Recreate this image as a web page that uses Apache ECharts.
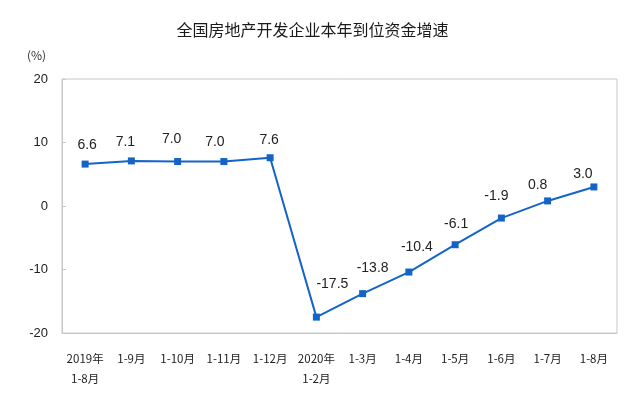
<!DOCTYPE html>
<html>
<head>
<meta charset="utf-8">
<script src="https://cdn.jsdelivr.net/npm/echarts@6/dist/echarts.min.js"></script>
<style>html,body{margin:0;padding:0;background:#fff}#c{width:625px;height:406px}</style>
</head>
<body>
<div id="c"></div>
<script>
const categories = ['2019年\n1-8月','1-9月','1-10月','1-11月','1-12月','2020年\n1-2月','1-3月','1-4月','1-5月','1-6月','1-7月','1-8月'];
const growth = [6.6, 7.1, 7.0, 7.0, 7.6, -17.5, -13.8, -10.4, -6.1, -1.9, 0.8, 3.0];
const yTicks = [-20, -10, 0, 10, 20];
// label nudges (style only)
const labelOffsets = [[2,-3],[-6,-3],[-6,-7],[-9,-4],[-1,-2],[16,-17],[10,-10],[8,-9],[1,-5],[-5,-6],[-10,0],[-11,3]];

const chart = echarts.init(document.getElementById('c'));
chart.setOption({
  animation: false,
  backgroundColor: '#fff',
  title: {
    text: '全国房地产开发企业本年到位资金增速',
    left: 'center', top: 17,
    textStyle: {fontSize: 16, fontWeight: 'normal', color: '#1a1a1a', fontFamily: 'Noto Sans CJK SC'}
  },
  graphic: [{
    type: 'text', left: 27, top: 49,
    style: {text: '(%)', fontSize: 12, fill: '#333', fontFamily: 'Noto Sans CJK SC'}
  }],
  grid: {left: 62, right: 8, top: 79, bottom: 73, show: true, borderColor: '#c8c8c8', borderWidth: 1},
  xAxis: {
    type: 'category', data: categories, boundaryGap: true,
    axisLine: {onZero: false, lineStyle: {color: '#c8c8c8'}},
    axisTick: {inside: true, length: 4, lineStyle: {color: '#c8c8c8'}},
    axisLabel: {color: '#222', fontSize: 11.5, lineHeight: 20, margin: 16, interval: 0, fontFamily: 'Noto Sans CJK SC'}
  },
  yAxis: {
    type: 'value', min: yTicks[0], max: yTicks[yTicks.length-1], interval: 10,
    axisLine: {show: true, lineStyle: {color: '#c8c8c8'}},
    axisTick: {show: true, inside: true, length: 4, lineStyle: {color: '#c8c8c8'}},
    splitLine: {show: false},
    axisLabel: {color: '#222', fontSize: 13, margin: 14, fontFamily: 'Liberation Sans'}
  },
  series: [{
    type: 'line',
    data: growth.map((v, i) => ({value: v, label: {offset: labelOffsets[i]}})),
    symbol: 'rect', symbolSize: 7,
    lineStyle: {color: '#1464c8', width: 2},
    itemStyle: {color: '#1464c8'},
    label: {
      show: true, position: 'top', distance: 5,
      fontSize: 14, color: '#222', fontFamily: 'Liberation Sans',
      formatter: p => p.value.toFixed(1)
    }
  }]
});
</script>
</body>
</html>
